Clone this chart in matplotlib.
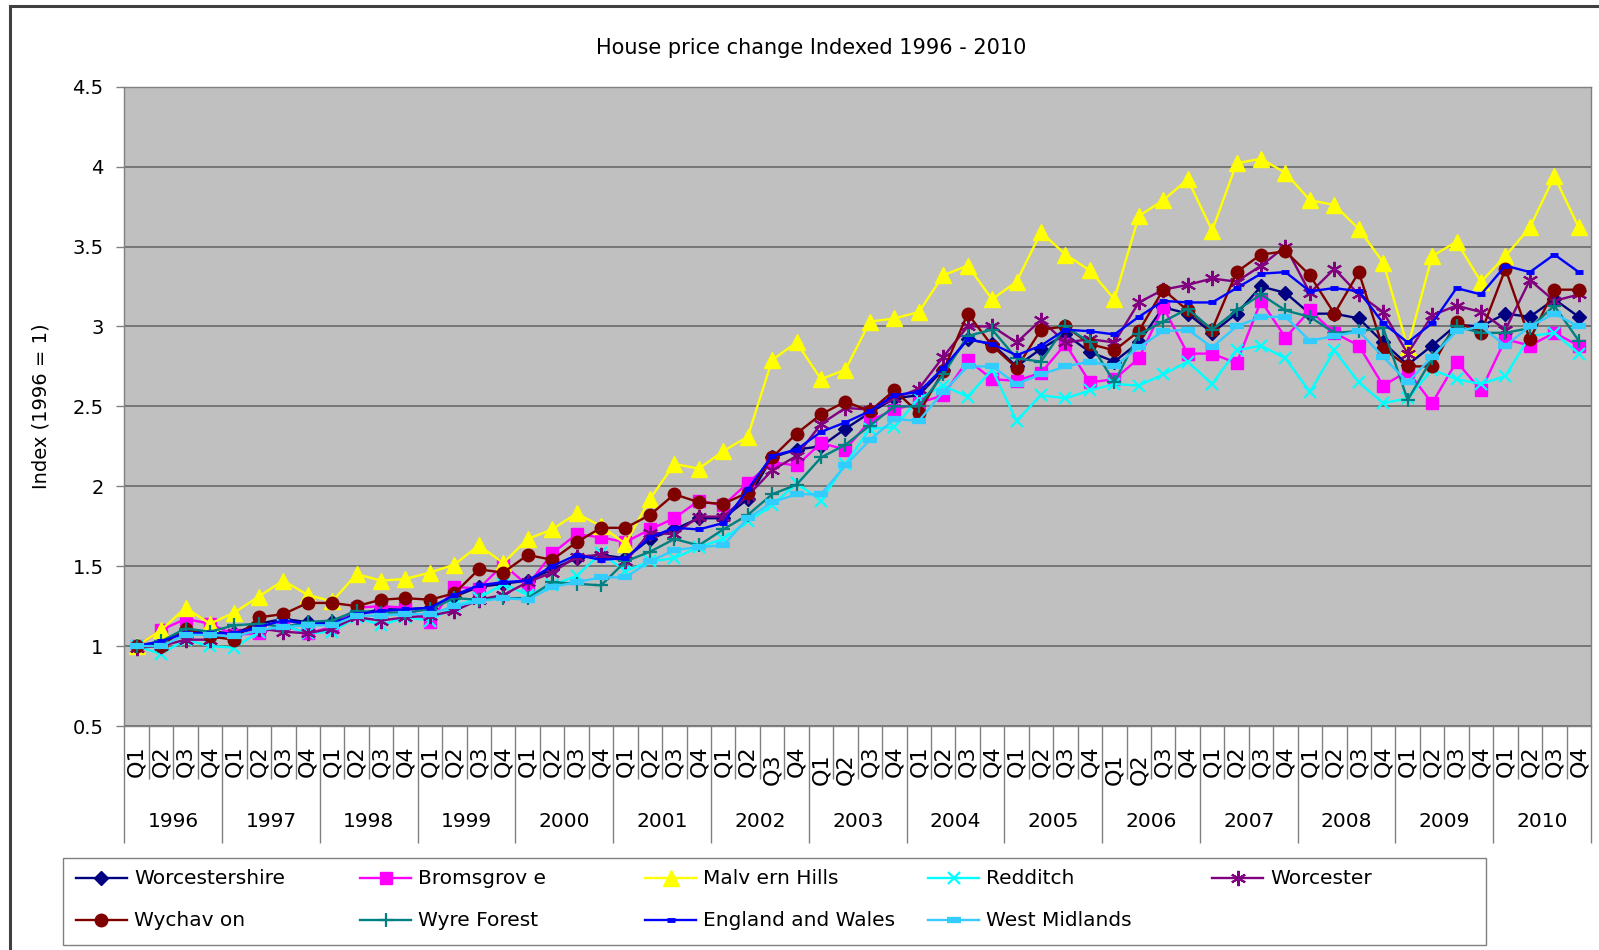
import matplotlib
matplotlib.use('Agg')
import matplotlib.pyplot as plt
from matplotlib.patches import Rectangle
from matplotlib.lines import Line2D
from matplotlib.transforms import blended_transform_factory, offset_copy
import numpy as np

years = [str(y) for y in range(1996, 2011)]
quarters = ['Q1', 'Q2', 'Q3', 'Q4']

names = ['Worcestershire', 'Bromsgrov e', 'Malv ern Hills', 'Redditch', 'Worcester',
         'Wychav on', 'Wyre Forest', 'England and Wales', 'West Midlands']

worcestershire = [
  1.00,1.02,1.10,1.09,1.08,1.14,1.17,1.15,1.15,1.20,1.23,1.23,1.24,1.31,1.37,1.39,1.41,
  1.48,1.55,1.57,1.55,1.67,1.73,1.80,1.80,1.92,2.18,2.23,2.25,2.36,2.46,
  2.55,2.57,2.73,2.92,2.89,2.75,2.86,2.95,2.84,2.78,2.90,3.12,3.08,2.96,3.08,3.25,
  3.21,3.08,3.08,3.05,2.90,2.76,2.88,3.01,3.00,3.08,3.06,3.17,3.06]
bromsgrove = [
  1.00,1.10,1.17,1.14,1.07,1.08,1.13,1.08,1.12,1.24,1.25,1.24,1.15,1.37,1.36,1.51,1.38,
  1.58,1.70,1.68,1.65,1.73,1.80,1.91,1.88,2.02,2.15,2.13,2.27,2.23,2.41,
  2.48,2.52,2.57,2.79,2.67,2.66,2.71,2.89,2.65,2.67,2.80,3.12,2.83,2.83,2.77,3.16,
  2.93,3.10,2.96,2.88,2.63,2.72,2.52,2.78,2.60,2.92,2.88,2.96,2.88]
malvern_hills = [
  1.00,1.10,1.24,1.14,1.21,1.31,1.41,1.32,1.28,1.45,1.41,1.42,1.46,1.51,1.63,1.52,1.67,
  1.73,1.83,1.75,1.64,1.92,2.14,2.11,2.22,2.31,2.79,2.90,2.67,2.73,3.03,
  3.05,3.09,3.32,3.38,3.17,3.28,3.59,3.45,3.35,3.17,3.69,3.79,3.92,3.60,
  4.02,4.05,3.96,3.79,3.76,3.61,3.40,2.87,3.44,3.53,3.28,3.44,3.62,3.94,3.62]
redditch = [
  1.00,0.95,1.04,1.00,0.99,1.09,1.13,1.08,1.09,1.18,1.13,1.18,1.16,1.25,1.30,1.39,1.32,
  1.38,1.44,1.58,1.47,1.53,1.55,1.62,1.67,1.78,1.88,2.02,1.91,2.14,2.36,
  2.37,2.55,2.63,2.56,2.73,2.41,2.57,2.55,2.60,2.64,2.63,2.70,2.78,2.64,2.85,2.88,
  2.80,2.59,2.85,2.65,2.52,2.55,2.73,2.67,2.64,2.69,2.94,2.96,2.83]
worcester = [
  0.99,1.00,1.04,1.04,1.08,1.11,1.09,1.08,1.11,1.18,1.16,1.18,1.19,1.22,1.29,1.32,1.40,
  1.46,1.56,1.57,1.53,1.71,1.70,1.81,1.81,1.94,2.10,2.19,2.39,2.49,2.48,
  2.55,2.61,2.81,3.00,3.00,2.90,3.04,2.90,2.92,2.90,3.15,3.23,3.26,3.30,3.28,3.38,
  3.50,3.21,3.36,3.20,3.09,2.83,3.07,3.13,3.09,2.98,3.29,3.16,3.20]
wychavon = [
  1.00,1.00,1.11,1.06,1.04,1.18,1.20,1.27,1.27,1.25,1.29,1.30,1.29,1.33,1.48,1.46,1.57,
  1.54,1.65,1.74,1.74,1.82,1.95,1.90,1.89,1.96,2.18,2.33,2.45,2.53,2.47,
  2.60,2.46,2.72,3.08,2.88,2.74,2.98,3.00,2.89,2.85,2.97,3.23,3.10,2.98,3.34,3.45,
  3.47,3.32,3.08,3.34,2.86,2.75,2.75,3.03,2.96,3.36,2.92,3.23,3.23]
wyre_forest = [
  1.00,1.03,1.11,1.09,1.13,1.14,1.12,1.15,1.16,1.22,1.21,1.21,1.23,1.30,1.29,1.30,1.30,
  1.40,1.39,1.38,1.53,1.59,1.67,1.63,1.73,1.82,1.95,2.01,2.18,2.26,2.38,
  2.50,2.50,2.70,2.94,2.98,2.80,2.78,3.00,2.90,2.65,2.95,3.03,3.11,2.98,3.10,3.20,
  3.10,3.06,2.96,2.97,2.99,2.54,2.80,3.00,2.96,2.96,2.99,3.13,2.91]
england_wales = [
  1.00,1.03,1.08,1.08,1.08,1.12,1.16,1.14,1.14,1.20,1.22,1.23,1.24,1.32,1.38,1.40,1.41,
  1.50,1.57,1.54,1.55,1.68,1.74,1.73,1.77,1.98,2.19,2.23,2.34,2.40,2.47,
  2.57,2.59,2.74,2.92,2.89,2.82,2.88,2.98,2.97,2.95,3.06,3.16,3.15,3.15,3.24,3.33,
  3.34,3.22,3.24,3.22,3.02,2.90,3.02,3.24,3.20,3.38,3.34,3.45,3.34]
west_midlands = [
  1.00,1.00,1.07,1.07,1.06,1.10,1.12,1.13,1.13,1.19,1.19,1.20,1.20,1.25,1.28,1.30,1.29,
  1.37,1.40,1.43,1.43,1.53,1.60,1.62,1.63,1.80,1.90,1.95,1.95,2.13,2.29,
  2.42,2.41,2.59,2.75,2.75,2.64,2.70,2.75,2.78,2.75,2.87,2.97,2.98,2.87,3.00,3.06,
  3.06,2.91,2.94,2.97,2.81,2.65,2.81,2.97,3.00,2.88,3.00,3.08,3.00]

values = [worcestershire, bromsgrove, malvern_hills, redditch, worcester,
          wychavon, wyre_forest, england_wales, west_midlands]

# colour, marker, marker size, marker edge width
styles = [
  ('#000080', 'D', 7, 1.0),
  ('#FF00FF', 's', 8, 1.0),
  ('#FFFF00', '^', 11, 1.0),
  ('#00FFFF', 'x', 9, 1.6),
  ('#800080', (6, 2, 0), 11, 1.5),
  ('#800000', 'o', 9, 1.0),
  ('#008080', '+', 10, 1.6),
  ('#0000FF', '_', 6, 3.5),
  ('#33CCFF', '_', 10, 4.5),
]

W, H = 1599, 950
fig = plt.figure(figsize=(W/100, H/100), dpi=100)
fig.patch.set_facecolor('white')
plt.rcParams['font.family'] = 'DejaVu Sans'

# outer chart frame (left and top edges only show)
fig.add_artist(Rectangle((9.5/W, -0.5), 2.0, 1.5 - 5.5/H, transform=fig.transFigure,
                         fill=False, edgecolor='#404040', lw=2.2))

ax = fig.add_axes([124.4/W, 1 - 726/H, (1591 - 124.4)/W, (726 - 86.7)/H])
ax.set_facecolor('#C0C0C0')
for s in ax.spines.values():
  s.set_color('#808080')
  s.set_linewidth(1.0)

x = np.arange(len(worcestershire))
for vals, (c, m, ms, mew) in zip(values, styles):
  ax.plot(x, vals, color=c, lw=1.7, marker=m, ms=ms, mew=mew, mfc=c, mec=c, clip_on=False)

ax.set_xlim(-0.5, len(x) - 0.5)
ax.set_ylim(0.5, 4.5)
yt = np.arange(0.5, 4.51, 0.5)
ax.set_yticks(yt)
ax.set_yticklabels(['%g' % v for v in yt], fontsize=14)
ax.yaxis.grid(True, color='#707070', lw=1.3)
ax.set_axisbelow(True)
ax.tick_params(axis='y', length=6, width=1, color='#808080', pad=9)

# category separators: quarters short, years long
ax.set_xticks(np.arange(-0.5, len(x), 4))
ax.set_xticks(np.arange(-0.5, len(x), 1), minor=True)
ax.set_xticklabels([])
ax.tick_params(axis='x', which='major', length=84, width=1, color='#808080')
ax.tick_params(axis='x', which='minor', length=38, width=1, color='#808080')

trans = blended_transform_factory(ax.transData, ax.transAxes)
low = {26, 28, 29, 40, 41}
for i in x:
  dy = 20 if i in low else 14
  ax.text(i, 0, quarters[i % 4], rotation=90, ha='center', va='top', fontsize=16,
          transform=offset_copy(trans, fig=fig, y=-dy, units='points'))
for k, yr in enumerate(years):
  ax.text(4*k + 1.5, 0, yr, ha='center', va='center', fontsize=14.5,
          transform=offset_copy(trans, fig=fig, y=-69, units='points'))

ax.set_ylabel('Index (1996 = 1)', fontsize=14)
ax.yaxis.set_label_coords(-(124.4 - 50)/(1591 - 124.4), 0.5)
fig.text(811/W, 1 - 48/H, 'House price change Indexed 1996 - 2010', ha='center', va='center',
         fontsize=15)

# legend box
fig.add_artist(Rectangle((63/W, 1 - 945/H), (1486 - 63)/W, (945 - 858)/H,
                         transform=fig.transFigure, fill=False, edgecolor='#808080', lw=1.0))
col_x = [134, 418, 703, 986, 1270]
row_y = [878, 920]
for n, (name, (c, m, ms, mew)) in enumerate(zip(names, styles)):
  tx, ty = col_x[n % 5], row_y[n // 5]
  fig.add_artist(Line2D([(tx - 58)/W, (tx - 7)/W], [1 - ty/H]*2, transform=fig.transFigure,
                        color=c, lw=1.7))
  fig.add_artist(Line2D([(tx - 32.5)/W], [1 - ty/H], transform=fig.transFigure, color=c,
                        marker=m, ms=ms, mew=mew, mfc=c, mec=c, lw=0))
  fig.text(tx/W, 1 - ty/H, name, ha='left', va='center', fontsize=14.5)

fig.savefig('out.png', dpi=100)
